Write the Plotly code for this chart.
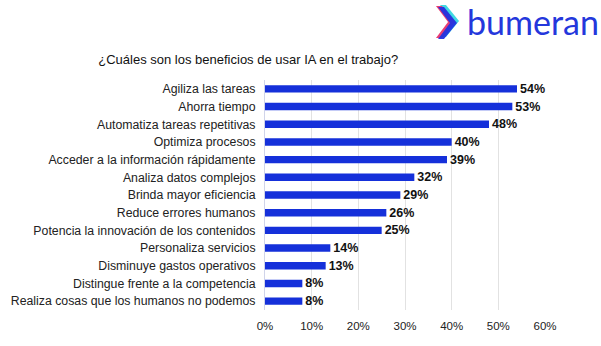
import plotly.graph_objects as go

categories = [
    "Agiliza las tareas",
    "Ahorra tiempo",
    "Automatiza tareas repetitivas",
    "Optimiza procesos",
    "Acceder a la información rápidamente",
    "Analiza datos complejos",
    "Brinda mayor eficiencia",
    "Reduce errores humanos",
    "Potencia la innovación de los contenidos",
    "Personaliza servicios",
    "Disminuye gastos operativos",
    "Distingue frente a la competencia",
    "Realiza cosas que los humanos no podemos",
]
values = [54, 53, 48, 40, 39, 32, 29, 26, 25, 14, 13, 8, 8]
tick_vals = [0, 10, 20, 30, 40, 50, 60]
tick_text = ["0%", "10%", "20%", "30%", "40%", "50%", "60%"]

FONT = "Liberation Sans, Arial, sans-serif"
BAR_BLUE = "#1530DA"

fig = go.Figure(
    go.Bar(
        x=values,
        y=categories,
        orientation="h",
        marker=dict(color=BAR_BLUE, line=dict(width=0)),
        text=[f"{v}%" for v in values],
        textposition="outside",
        constraintext="none",
        textfont=dict(family=FONT, size=12.5, color="#111111", weight="bold"),
        cliponaxis=False,
        width=0.42,
    )
)

fig.update_layout(
    width=601,
    height=346,
    margin=dict(l=265, r=56, t=80, b=36, autoexpand=False),
    paper_bgcolor="white",
    plot_bgcolor="white",
    showlegend=False,
    font=dict(family=FONT, size=12, color="#222222"),
    title=dict(
        text="¿Cuáles son los beneficios de usar IA en el trabajo?",
        x=0.413, xanchor="center", y=0.828, yanchor="middle",
        font=dict(family=FONT, size=13, color="#111111"),
    ),
)

fig.update_xaxes(
    range=[0, 60],
    tickvals=tick_vals,
    ticktext=tick_text,
    showgrid=True,
    gridcolor="#e2e2e2",
    gridwidth=1,
    zeroline=False,
    showline=False,
    tickfont=dict(family=FONT, size=11.5, color="#222222"),
    ticks="",
    ticklabelstandoff=7,
    automargin=False,
)
fig.update_yaxes(
    autorange="reversed",
    showline=True,
    linecolor="#d0d4ea",
    linewidth=1,
    ticks="",
    ticklabelstandoff=6,
    automargin=False,
    tickfont=dict(family=FONT, size=12.3, color="#222222"),
)

# bumeran brand mark: layered chevrons plus word mark (pixel points -> paper coords)
PLOT_L, PLOT_B = 265, 346 - 36
PLOT_W, PLOT_H = 601 - 265 - 56, 346 - 80 - 36

shapes = []
for dx, dy, col in [(4, -1, "#36D6E0"), (0, 0, "#E8336B"), (2, 1, "#2233E0")]:
    pts = [(436 + dx, 6 + dy), (442 + dx, 6 + dy), (455 + dx, 22 + dy),
           (442 + dx, 38 + dy), (436 + dx, 38 + dy), (448 + dx, 22 + dy)]
    path = "M " + " L ".join(
        f"{(px - PLOT_L) / PLOT_W:.4f},{(PLOT_B - py) / PLOT_H:.4f}" for px, py in pts
    ) + " Z"
    shapes.append(dict(type="path", path=path, xref="paper", yref="paper",
                       fillcolor=col, line=dict(width=0), opacity=0.95))
fig.layout.shapes = shapes

fig.add_annotation(
    text="bumeran", xref="paper", yref="paper",
    x=(465 - PLOT_L) / PLOT_W, y=(PLOT_B - 22) / PLOT_H, xanchor="left", yanchor="middle",
    showarrow=False,
    font=dict(family="Lato, Inter, sans-serif", size=34, color="#2437DC"),
)

fig.write_html("out.html")
